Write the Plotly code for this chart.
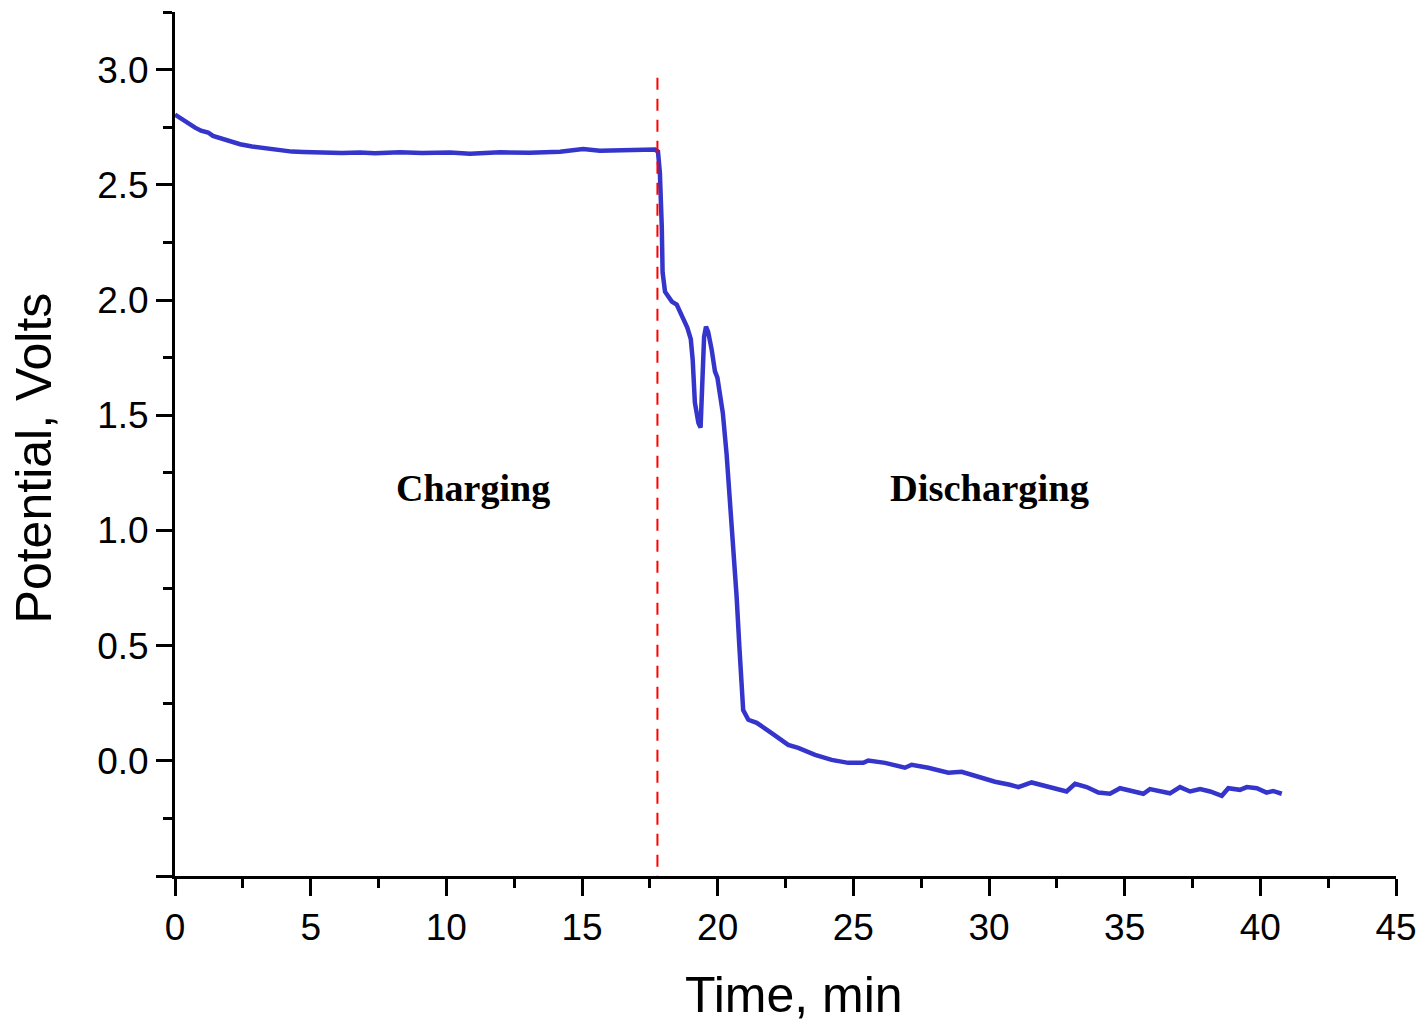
import plotly.graph_objects as go

# Charging segment (time in min, potential in V)
charge_t = [0.00, 0.18, 0.37, 0.55, 0.74, 0.96, 1.22, 1.40, 1.58, 1.84, 2.10, 2.40, 2.84, 3.21,
            3.57, 3.94, 4.31, 4.72, 5.16, 5.71, 6.15, 6.82, 7.37, 8.29, 9.10, 10.14, 10.87,
            11.98, 13.08, 14.19, 15.04, 15.66, 16.40, 17.14, 17.69, 17.80]
charge_v = [2.805, 2.79, 2.774, 2.76, 2.748, 2.735, 2.727, 2.712, 2.705, 2.693, 2.683, 2.676,
            2.666, 2.660, 2.653, 2.650, 2.644, 2.642, 2.640, 2.642, 2.638, 2.640, 2.637, 2.641,
            2.638, 2.640, 2.635, 2.641, 2.639, 2.643, 2.655, 2.648, 2.650, 2.648, 2.653, 2.644]

# Discharging segment
discharge_t = [17.87, 17.94, 17.97, 18.06, 18.31, 18.49, 18.67, 18.88, 19.01, 19.08, 19.16,
               19.29, 19.37, 19.43, 19.50, 19.57, 19.65, 19.78, 19.90, 19.99, 20.11, 20.19,
               20.33, 20.45, 20.57, 20.70, 20.80, 20.86, 20.94, 21.13, 21.44, 21.99, 22.60,
               22.97, 23.59, 24.20, 24.81, 25.37, 25.55, 26.17, 26.90, 27.15, 27.76, 28.50,
               28.99, 29.48, 30.22, 30.77, 31.08, 31.57, 32.13, 32.86, 33.17, 33.60, 34.03,
               34.46, 34.83, 35.32, 35.69, 35.93, 36.30, 36.67, 37.04, 37.41, 37.78, 38.15,
               38.58, 38.82, 39.25, 39.50, 39.87, 40.23, 40.47, 40.79]
discharge_v = [2.553, 2.32, 2.12, 2.036, 1.993, 1.98, 1.93, 1.88, 1.83, 1.74, 1.555,
               1.467, 1.446, 1.60, 1.84, 1.884, 1.862, 1.784, 1.69, 1.663, 1.567, 1.51,
               1.33, 1.146, 0.93, 0.71, 0.495, 0.35, 0.22, 0.178, 0.165, 0.12, 0.069,
               0.056, 0.026, 0.004, -0.009, -0.009, 0.001, -0.009, -0.030, -0.017, -0.030, -0.052,
               -0.048, -0.065, -0.091, -0.104, -0.114, -0.094, -0.109, -0.133, -0.100, -0.114, -0.138,
               -0.143, -0.119, -0.133, -0.143, -0.123, -0.133, -0.141, -0.114, -0.133, -0.123, -0.133,
               -0.152, -0.119, -0.126, -0.114, -0.119, -0.138, -0.131, -0.143]

switch_t = 17.78
switch_v = [2.965, -0.5]

y_tickvals = [-0.5, 0.0, 0.5, 1.0, 1.5, 2.0, 2.5, 3.0]
y_ticktext = ["", "0.0", "0.5", "1.0", "1.5", "2.0", "2.5", "3.0"]
x_tickvals = [0, 5, 10, 15, 20, 25, 30, 35, 40, 45]

SANS = "Liberation Sans, Arial, sans-serif"
SERIF = "Liberation Serif, Times New Roman, serif"

fig = go.Figure()
fig.add_trace(go.Scatter(x=charge_t + discharge_t, y=charge_v + discharge_v, mode="lines",
                         line=dict(color="#3535CC", width=4.5), showlegend=False))
fig.add_trace(go.Scatter(x=[switch_t, switch_t], y=switch_v, mode="lines",
                         line=dict(color="#FF0000", width=2, dash="12px,9px"), showlegend=False))

fig.add_annotation(x=10.98, y=1.185, text="<b>Charging</b>", showarrow=False,
                   font=dict(family=SERIF, size=38, color="black"))
fig.add_annotation(x=30.0, y=1.185, text="<b>Discharging</b>", showarrow=False,
                   font=dict(family=SERIF, size=38.5, color="black"))

# Axis titles
fig.add_annotation(xref="paper", yref="paper", x=0.507, y=-0.1377, xanchor="center", yanchor="middle",
                   text="Time, min", showarrow=False, font=dict(family=SANS, size=50, color="black"))
fig.add_annotation(xref="paper", yref="paper", x=-0.1147, y=0.4844, xanchor="center", yanchor="middle",
                   text="Potential, Volts", textangle=-90, showarrow=False,
                   font=dict(family=SANS, size=50, color="black"))

axis_common = dict(showline=True, linewidth=3, linecolor="black", showgrid=False, zeroline=False,
                   ticks="outside", tickwidth=3, tickcolor="black", automargin=False,
                   tickfont=dict(family=SANS, size=37, color="black"))

fig.update_xaxes(range=[0, 45], tickvals=x_tickvals, ticklen=17,
                 minor=dict(dtick=2.5, tick0=0, ticklen=9, tickwidth=3, ticks="outside", tickcolor="black"),
                 **axis_common)
fig.update_yaxes(range=[-0.5, 3.25], tickvals=y_tickvals, ticktext=y_ticktext, ticklen=16,
                 minor=dict(dtick=0.25, tick0=0, ticklen=9, tickwidth=3, ticks="outside", tickcolor="black"),
                 **axis_common)

fig.update_layout(width=1423, height=1022, margin=dict(l=175, r=27, t=12, b=146),
                  plot_bgcolor="white", paper_bgcolor="white")

fig.write_html("out.html")
